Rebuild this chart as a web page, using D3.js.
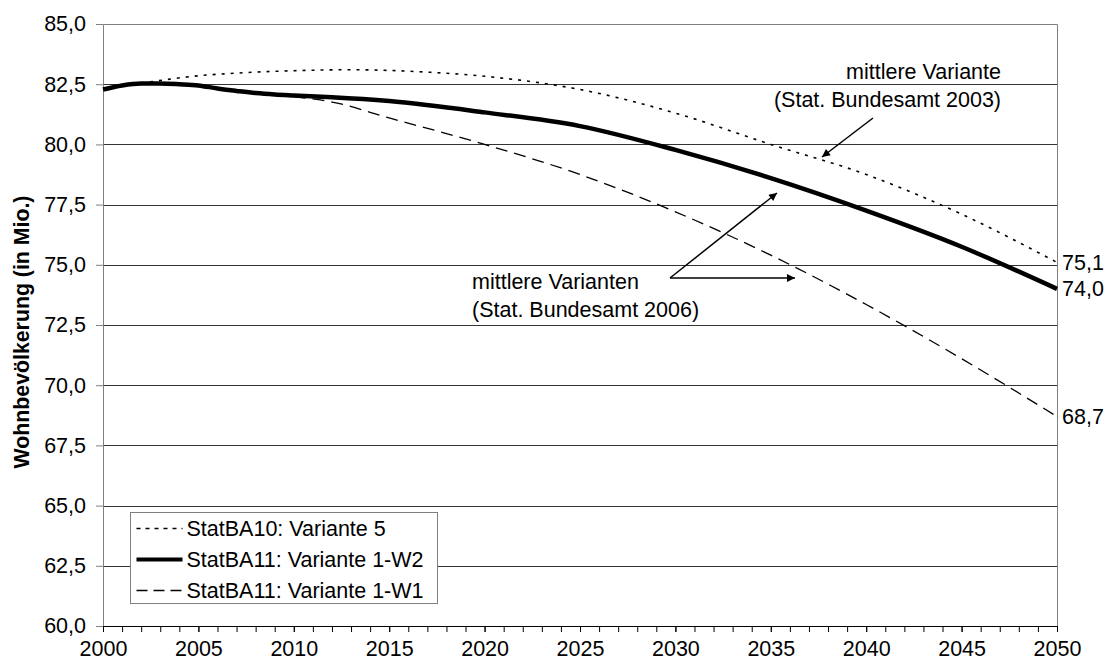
<!DOCTYPE html>
<html>
<head>
<meta charset="utf-8">
<script src="https://cdn.jsdelivr.net/npm/d3@7"></script>
<style>
  body { margin: 0; background: #fff; }
  text { font-family: "Liberation Sans", Arial, sans-serif; fill: #000; }
</style>
</head>
<body>
<div id="chart"></div>
<script>
// Daten (Mio. Einwohner)
var years_w2 = [2000, 2001, 2002, 2003, 2004, 2005, 2006, 2007, 2008, 2009, 2010, 2012, 2015, 2020, 2025, 2030, 2035, 2040, 2045, 2050];
var values_w2 = [82.28, 82.45, 82.53, 82.53, 82.5, 82.45, 82.32, 82.22, 82.13, 82.07, 82.03, 81.96, 81.8, 81.33, 80.76, 79.77, 78.6, 77.25, 75.75, 74.0];

var years_w1 = [2009, 2010, 2012, 2015, 2020, 2025, 2030, 2035, 2040, 2045, 2050];
var values_w1 = [82.07, 81.98, 81.76, 81.1, 80.0, 78.75, 77.2, 75.4, 73.35, 71.1, 68.7];

var years_v5 = [2002, 2005, 2007, 2010, 2013, 2017, 2020, 2025, 2030, 2035, 2040, 2045, 2050];
var values_v5 = [82.54, 82.85, 82.96, 83.06, 83.1, 83.0, 82.83, 82.28, 81.3, 80.0, 78.75, 77.1, 75.1];

var series_names = ["StatBA10: Variante 5", "StatBA11: Variante 1-W2", "StatBA11: Variante 1-W1"];
var y_ticks = d3.range(60, 85.01, 2.5);
var x_label_years = d3.range(2000, 2051, 5);

var width = 1112, height = 669;
var margin = {top: 24, right: 55, bottom: 43, left: 103};
var pw = width - margin.left - margin.right;
var ph = height - margin.top - margin.bottom;
var fs = "21.5px";

var fmt = function(v) { return d3.format(".1f")(v).replace(".", ","); };

var x = d3.scaleLinear().domain([2000, 2050]).range([0, pw]);
var y = d3.scaleLinear().domain([60, 85]).range([ph, 0]);

var svg = d3.select("#chart").append("svg")
    .attr("width", width)
    .attr("height", height);

var defs = svg.append("defs");
defs.append("marker")
    .attr("id", "arrow")
    .attr("viewBox", "0 0 10 10")
    .attr("refX", 10).attr("refY", 5)
    .attr("markerWidth", 11).attr("markerHeight", 8)
    .attr("markerUnits", "userSpaceOnUse")
    .attr("orient", "auto")
    .append("path").attr("d", "M0,0L10,5L0,10Z").attr("fill", "#000");

var g = svg.append("g").attr("transform", "translate(" + margin.left + "," + margin.top + ")");

// Gitterlinien
g.selectAll(".grid").data(y_ticks.slice(0, -1)).enter().append("line")
    .attr("x1", 0).attr("x2", pw)
    .attr("y1", function(d) { return Math.round(y(d)) + 0.5; })
    .attr("y2", function(d) { return Math.round(y(d)) + 0.5; })
    .attr("stroke", "#333").attr("stroke-width", 1);

// Rahmen oben/rechts
g.append("path")
    .attr("d", "M0.5," + (Math.round(y(85)) + 0.5) + "H" + (pw + 0.5) + "V" + ph)
    .attr("fill", "none").attr("stroke", "#808080");

// y-Achse
var yAxis = g.append("g")
    .call(d3.axisLeft(y).tickValues(y_ticks).tickSize(7).tickPadding(10).tickFormat(fmt));
yAxis.select(".domain").attr("stroke", "#808080");
yAxis.selectAll(".tick line").attr("stroke", "#808080");
yAxis.selectAll("text").style("font-size", fs).attr("font-family", null);

// x-Achse: jedes Jahr ein Strich, alle 5 Jahre Beschriftung
var xMinor = g.append("g").attr("transform", "translate(0," + ph + ")")
    .call(d3.axisBottom(x).tickValues(d3.range(2000, 2051)).tickSize(6).tickFormat(""));
var xAxis = g.append("g").attr("transform", "translate(0," + ph + ")")
    .call(d3.axisBottom(x).tickValues(x_label_years).tickSize(6).tickPadding(9).tickFormat(d3.format("d")));
xAxis.select(".domain").remove();
xMinor.select(".domain").attr("stroke", "#000");
xAxis.selectAll("text").style("font-size", fs).attr("font-family", null);

// Achsentitel
svg.append("text")
    .attr("transform", "translate(28.5,332) rotate(-90)")
    .attr("text-anchor", "middle")
    .style("font-size", "21.3px")
    .style("font-weight", "bold")
    .text("Wohnbevölkerung (in Mio.)");

// Linien
var line = d3.line()
    .x(function(d) { return x(d[0]); })
    .y(function(d) { return y(d[1]); })
    .curve(d3.curveMonotoneX);

var styles = [
    {dash: "3,6", w: 1.6},
    {dash: null, w: 4.5},
    {dash: "12,7", w: 1.3}
];

var data = [d3.zip(years_v5, values_v5), d3.zip(years_w2, values_w2), d3.zip(years_w1, values_w1)];

data.forEach(function(s, i) {
    g.append("path")
        .datum(s)
        .attr("d", line)
        .attr("fill", "none")
        .attr("stroke", "#000")
        .attr("stroke-width", styles[i].w)
        .attr("stroke-dasharray", styles[i].dash);
});

// Endwerte
data.forEach(function(s) {
    var last = s[s.length - 1];
    g.append("text")
        .attr("x", x(last[0]) + 5)
        .attr("y", y(last[1]))
        .attr("dy", "0.35em")
        .style("font-size", fs)
        .text(fmt(last[1]));
});

// Anmerkungen
var ann1 = svg.append("text").attr("text-anchor", "end").style("font-size", fs);
ann1.append("tspan").attr("x", 1001).attr("y", 79).text("mittlere Variante");
ann1.append("tspan").attr("x", 1001).attr("y", 107).text("(Stat. Bundesamt 2003)");
svg.append("line").attr("x1", 873).attr("y1", 118).attr("x2", 822).attr("y2", 157)
    .attr("stroke", "#000").attr("stroke-width", 1.5).attr("marker-end", "url(#arrow)");

var ann2 = svg.append("text").attr("text-anchor", "start").style("font-size", fs);
ann2.append("tspan").attr("x", 472).attr("y", 289).text("mittlere Varianten");
ann2.append("tspan").attr("x", 472).attr("y", 317).text("(Stat. Bundesamt 2006)");
svg.append("line").attr("x1", 670).attr("y1", 278).attr("x2", 777).attr("y2", 193)
    .attr("stroke", "#000").attr("stroke-width", 1.5).attr("marker-end", "url(#arrow)");
svg.append("line").attr("x1", 670).attr("y1", 278).attr("x2", 795).attr("y2", 278)
    .attr("stroke", "#000").attr("stroke-width", 1.5).attr("marker-end", "url(#arrow)");

// Legende
var legend = svg.append("g").attr("transform", "translate(130.5,512.5)");
legend.append("rect")
    .attr("width", 307).attr("height", 91)
    .attr("fill", "#fff").attr("stroke", "#808080");
series_names.forEach(function(name, i) {
    var cy = 16 + i * 31;
    legend.append("line")
        .attr("x1", 6).attr("x2", 52).attr("y1", cy).attr("y2", cy)
        .attr("stroke", "#000")
        .attr("stroke-width", i == 1 ? 4 : styles[i].w)
        .attr("stroke-dasharray", i == 0 ? "4,5" : (i == 2 ? "11,6" : null));
    legend.append("text")
        .attr("x", 56).attr("y", cy).attr("dy", "0.35em")
        .style("font-size", fs)
        .text(name);
});
</script>
</body>
</html>
